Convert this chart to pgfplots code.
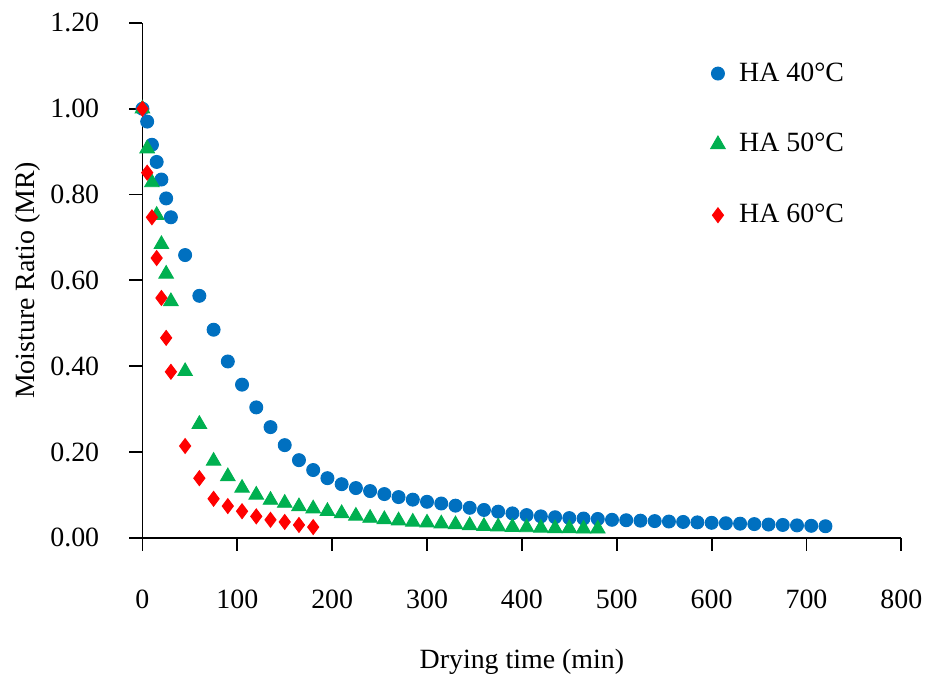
\documentclass[border=0pt]{standalone}
\usepackage{fontspec}
\setmainfont{Liberation Serif}
\usepackage{pgfplots}
\pgfplotsset{compat=1.18}
\definecolor{ha40}{RGB}{0,112,192}
\definecolor{ha50}{RGB}{0,176,80}
\definecolor{ha60}{RGB}{255,0,0}

\begin{document}
\begin{tikzpicture}
\begin{axis}[
    scale only axis,
    width=326.6pt, height=221.6pt,
    xmin=0, xmax=800, ymin=0, ymax=1.2,
    xtick={0,100,...,800},
    ytick={0,0.2,...,1.2},
    axis x line*=bottom, axis y line*=left,
    axis line style={line width=0.8pt},
    tick style={line width=0.8pt, black},
    tick align=outside,
    major tick length=5.6pt,
    minor tick num=0,
    font=\fontsize{12}{14}\selectfont,
    /pgf/number format/assume math mode=true,
    yticklabel={\pgfmathprintnumber[fixed,fixed zerofill,precision=2]{\tick}},
    xticklabel style={yshift=-13.5pt},
    yticklabel style={xshift=-9.5pt},
    xlabel={Drying time (min)},
    ylabel={Moisture Ratio (MR)},
    xlabel style={yshift=-10.5pt},
    ylabel style={yshift=-2.5pt},
    clip=false,
    legend style={draw=none, fill=none, at={(0.739,0.942)}, anchor=north west,
        row sep=17pt, font=\fontsize{12}{14}\selectfont,
        /tikz/every odd column/.append style={column sep=4pt}},
    legend cell align=left,
]
\addplot[only marks, mark=*, mark size=2.8pt, color=ha40] coordinates {
(0,1.000) (5,0.970) (10,0.916) (15,0.876) (20,0.835) (25,0.791) (30,0.747)
(45,0.659) (60,0.564) (75,0.485) (90,0.411) (105,0.357) (120,0.304) (135,0.258)
(150,0.216) (165,0.181) (180,0.158) (195,0.139) (210,0.125) (225,0.116) (240,0.109)
(255,0.102) (270,0.095) (285,0.089) (300,0.084) (315,0.080) (330,0.075) (345,0.070)
(360,0.065) (375,0.061) (390,0.057) (405,0.053) (420,0.050) (435,0.048) (450,0.046)
(465,0.045) (480,0.044) (495,0.042) (510,0.041) (525,0.040) (540,0.039) (555,0.038)
(570,0.037) (585,0.036) (600,0.035) (615,0.034) (630,0.033) (645,0.032) (660,0.031)
(675,0.030) (690,0.029) (705,0.028) (720,0.027)
};
\addlegendentry{HA 40°C}
\addplot[only marks, mark=triangle*, mark size=3.6pt, color=ha50] coordinates {
(0,1.000) (5,0.907) (10,0.828) (15,0.752) (20,0.684) (25,0.615) (30,0.551)
(45,0.388) (60,0.265) (75,0.179) (90,0.143) (105,0.116) (120,0.100) (135,0.088)
(150,0.081) (165,0.073) (180,0.068) (195,0.062) (210,0.057) (225,0.051) (240,0.046)
(255,0.043) (270,0.040) (285,0.037) (300,0.035) (315,0.033) (330,0.031) (345,0.029)
(360,0.027) (375,0.026) (390,0.025) (405,0.024) (420,0.023) (435,0.022) (450,0.022)
(465,0.021) (480,0.021)
};
\addlegendentry{HA 50°C}
\addplot[only marks, mark=diamond*, mark size=3.2pt, color=ha60] coordinates {
(0,1.000) (5,0.851) (10,0.747) (15,0.652) (20,0.559) (25,0.466) (30,0.387)
(45,0.214) (60,0.139) (75,0.091) (90,0.074) (105,0.062) (120,0.050) (135,0.042)
(150,0.037) (165,0.030) (180,0.025)
};
\addlegendentry{HA 60°C}
% white margin as in the original image
\path (rel axis cs:-0.1877,-0.2689) rectangle (rel axis cs:1.0328,1.0445);
\end{axis}
\end{tikzpicture}
\end{document}
